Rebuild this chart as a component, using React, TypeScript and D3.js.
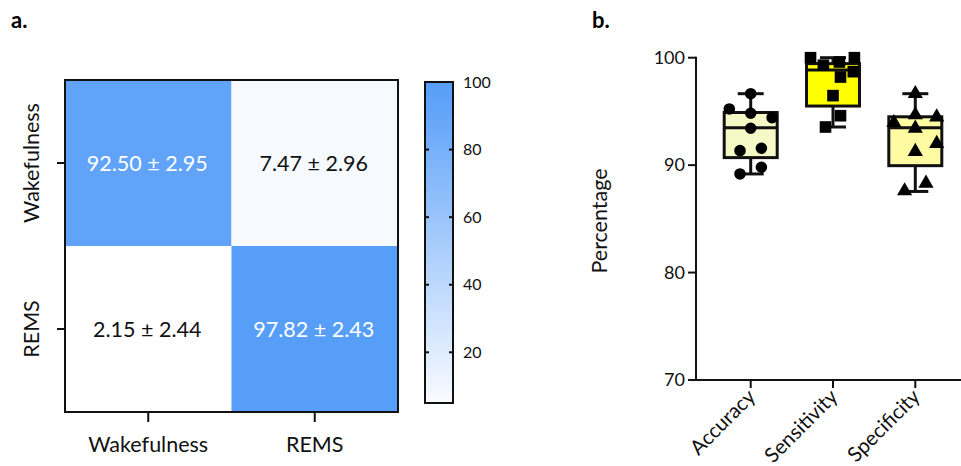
import React from 'react';
import * as d3 from 'd3';

// panel a: confusion matrix (mean ± sd, %)
const classes = ['Wakefulness', 'REMS'];
const cellMeans = [
  [92.5, 7.47],
  [2.15, 97.82],
];
const cellSds = [
  [2.95, 2.96],
  [2.44, 2.43],
];
const colorbarTicks = [20, 40, 60, 80, 100];

// panel b: box plots
const metrics = ['Accuracy', 'Sensitivity', 'Specificity'];
const boxFills = ['#f4f9c6', '#ffff00', '#fffba3'];
const boxMin = [89.18, 93.55, 87.55];
const boxQ1 = [90.7, 95.5, 89.95];
const boxMedian = [93.47, 98.85, 93.47];
const boxQ3 = [94.9, 99.45, 94.5];
const boxMax = [96.65, 100, 96.65];
const accuracyPts = [96.65, 95.23, 94.83, 94.42, 93.43, 91.35, 91.57, 89.8, 89.18];
const accuracyJitter = [0, -2, 0, 2, 0, -1, 1, 1, -1];
const sensitivityPts = [100, 100, 99.3, 99.6, 98.7, 98.2, 96.47, 94.6, 93.55];
const sensitivityJitter = [-2.1, 2, -0.9, 0.6, 1.9, 0.7, 0, 0.7, -0.7];
const specificityPts = [96.65, 94.67, 93.95, 94.47, 93.43, 91.26, 92.0, 87.6, 88.3];
const specificityJitter = [0, 0, -2, 2, 0, 0, 2, -1, 1];
const yTicks = [70, 80, 90, 100];

const FONT = 'Lato, "Open Sans", sans-serif';

const App = () => {
  // ---- panel a scales
  const xA = d3.scaleBand().domain(classes).range([65, 398]);
  const yA = d3.scaleBand().domain(classes).range([80, 412]);
  const color = d3.scaleLinear<string>()
    .domain([2.15, 97.82])
    .range(['#ffffff', '#579ef9'])
    .clamp(true);
  const yBar = d3.scaleLinear().domain([5, 100]).range([403, 82]);
  const barX0 = 425;
  const barX1 = 453;
  const gradStops = d3.range(0, 1.0001, 0.1).map(t => {
    const v = yBar.domain()[0] + t * (yBar.domain()[1] - yBar.domain()[0]);
    return { offset: t, color: color(v) };
  });

  // ---- panel b scales
  const xB = d3.scalePoint().domain(metrics).range([750.7, 915.3]);
  const yB = d3.scaleLinear().domain([70, 100]).range([380, 57.7]);
  const jitterUnit = 10.7;
  const boxW = 53;
  const capW = 26;
  const pointSets = [
    { pts: accuracyPts, jit: accuracyJitter, shape: d3.symbolCircle, size: 105 },
    { pts: sensitivityPts, jit: sensitivityJitter, shape: d3.symbolSquare, size: 135 },
    { pts: specificityPts, jit: specificityJitter, shape: d3.symbolTriangle, size: 100 },
  ];

  return (
    <svg width={961} height={466} style={{ position: 'absolute', left: 0, top: 0, background: '#fff' }}
      fontFamily={FONT}>
      <defs>
        <linearGradient id="cbar" x1="0" y1="1" x2="0" y2="0">
          {gradStops.map((s, i) => (
            <stop key={i} offset={s.offset} stopColor={s.color} />
          ))}
        </linearGradient>
      </defs>

      {/* panel labels */}
      <text x={11} y={28} fontSize={22} fontWeight="bold">a.</text>
      <text x={592} y={28} fontSize={22} fontWeight="bold">b.</text>

      {/* ---------- heatmap ---------- */}
      {cellMeans.map((row, i) => row.map((v, j) => (
        <g key={`${i}-${j}`}>
          <rect x={xA(classes[j])} y={yA(classes[i])} width={xA.bandwidth()} height={yA.bandwidth()}
            fill={color(v)} />
          <text x={xA(classes[j])! + xA.bandwidth() / 2 - 1} y={yA(classes[i])! + yA.bandwidth() / 2}
            dy="0.35em" textAnchor="middle" fontSize={21.5} fill={v > 50 ? '#fff' : '#111'}>
            {`${v.toFixed(2)} ± ${cellSds[i][j].toFixed(2)}`}
          </text>
        </g>
      )))}
      <rect x={65} y={80} width={333} height={332} fill="none" stroke="#111" strokeWidth={2} />
      {classes.map(c => (
        <g key={`yt-${c}`}>
          <line x1={57} x2={65} y1={yA(c)! + yA.bandwidth() / 2} y2={yA(c)! + yA.bandwidth() / 2}
            stroke="#111" strokeWidth={2} />
          <text transform={`translate(39,${yA(c)! + yA.bandwidth() / 2}) rotate(-90)`}
            textAnchor="middle" fontSize={21.5} fill="#111">{c}</text>
          <line y1={412} y2={422} x1={xA(c)! + xA.bandwidth() / 2} x2={xA(c)! + xA.bandwidth() / 2}
            stroke="#111" strokeWidth={2} />
          <text x={xA(c)! + xA.bandwidth() / 2} y={452} textAnchor="middle" fontSize={21.5} fill="#111">{c}</text>
        </g>
      ))}

      {/* colorbar */}
      <rect x={barX0} y={82} width={barX1 - barX0} height={321} fill="url(#cbar)" stroke="#111" strokeWidth={2} />
      {colorbarTicks.map(t => (
        <g key={`cb-${t}`}>
          {t < 100 && (
            <>
              <line x1={barX0} x2={barX0 + 4} y1={yBar(t)} y2={yBar(t)} stroke="#111" strokeWidth={2} />
              <line x1={barX1 - 4} x2={barX1} y1={yBar(t)} y2={yBar(t)} stroke="#111" strokeWidth={2} />
            </>
          )}
          <text x={463} y={yBar(t)} dy="0.35em" fontSize={16} fill="#111">{t}</text>
        </g>
      ))}

      {/* ---------- box plots ---------- */}
      <line x1={696} x2={696} y1={yB(100) - 1} y2={yB(70)} stroke="#111" strokeWidth={2} />
      <line x1={695} x2={961} y1={yB(70)} y2={yB(70)} stroke="#111" strokeWidth={2} />
      {yTicks.map(t => (
        <g key={`ybt-${t}`}>
          <line x1={688} x2={696} y1={yB(t)} y2={yB(t)} stroke="#111" strokeWidth={2} />
          <text x={685} y={yB(t)} dy="0.35em" textAnchor="end" fontSize={18} fill="#111">{t}</text>
        </g>
      ))}
      <text transform={`translate(607,${221}) rotate(-90)`} textAnchor="middle" fontSize={21.5} fill="#111">
        Percentage
      </text>
      {metrics.map((m, i) => {
        const cx = xB(m)!;
        const set = pointSets[i];
        const sym = d3.symbol().type(set.shape).size(set.size);
        return (
          <g key={m}>
            <line x1={cx} x2={cx} y1={yB(70)} y2={yB(70) + 8} stroke="#111" strokeWidth={2} />
            <text transform={`translate(${cx + 6},${398}) rotate(-45)`} textAnchor="end" fontSize={20.5} fill="#111">{m}</text>
            {/* whiskers */}
            <line x1={cx} x2={cx} y1={yB(boxMax[i])} y2={yB(boxMin[i])} stroke="#111" strokeWidth={3} />
            <line x1={cx - capW / 2} x2={cx + capW / 2} y1={yB(boxMax[i])} y2={yB(boxMax[i])} stroke="#111" strokeWidth={3} />
            <line x1={cx - capW / 2} x2={cx + capW / 2} y1={yB(boxMin[i])} y2={yB(boxMin[i])} stroke="#111" strokeWidth={3} />
            <rect x={cx - boxW / 2} y={yB(boxQ3[i])} width={boxW} height={yB(boxQ1[i]) - yB(boxQ3[i])}
              fill={boxFills[i]} stroke="#111" strokeWidth={3} />
            <line x1={cx - boxW / 2} x2={cx + boxW / 2} y1={yB(boxMedian[i])} y2={yB(boxMedian[i])} stroke="#111" strokeWidth={3} />
            {set.pts.map((p, k) => (
              <path key={k} d={sym()!}
                transform={`translate(${cx + set.jit[k] * jitterUnit},${yB(p)})`} fill="#000" />
            ))}
          </g>
        );
      })}
    </svg>
  );
};

export default App;
